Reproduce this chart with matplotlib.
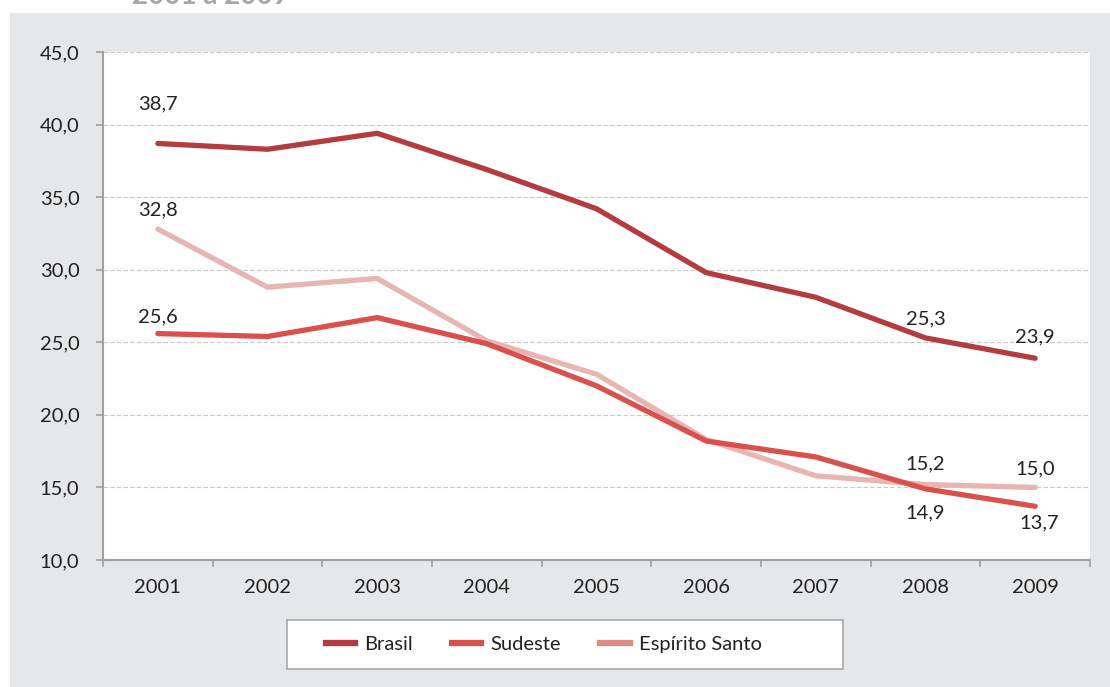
import matplotlib.pyplot as plt
from matplotlib.patches import Rectangle
from matplotlib.lines import Line2D

plt.rcParams['font.family'] = ['Lato', 'DejaVu Sans']

anos = ['2001', '2002', '2003', '2004', '2005', '2006', '2007', '2008', '2009']
brasil = [38.7, 38.3, 39.4, 36.9, 34.2, 29.8, 28.1, 25.3, 23.9]
sudeste = [25.6, 25.4, 26.7, 24.9, 22.0, 18.2, 17.1, 14.9, 13.7]
espirito_santo = [32.8, 28.8, 29.4, 25.1, 22.8, 18.3, 15.8, 15.2, 15.0]
nomes = ['Brasil', 'Sudeste', 'Espírito Santo']
cores = ['#B43C3E', '#D9504C', '#E8B6B1']
cores_legenda = ['#B43C3E', '#D9504C', '#DE8A84']
yticks = [10, 15, 20, 25, 30, 35, 40, 45]

W, H = 1110, 687
FS = 14.5
fig = plt.figure(figsize=(W / 100, H / 100), dpi=100)
fig.patch.set_facecolor('white')
fig.patches.append(Rectangle((10 / W, 0), 1, (H - 13) / H, transform=fig.transFigure,
                             facecolor='#E6E7E9', edgecolor='none', zorder=-10))
# caixa da legenda
fig.patches.append(Rectangle((287 / W, 1 - 669 / H), (843 - 287) / W, 49 / H,
                             transform=fig.transFigure, facecolor='white',
                             edgecolor='#A8A8A8', linewidth=1.2, zorder=-5))
fig.text(210 / W, 1 - 4 / H, '2001 a 2009', ha='center', va='baseline',
         fontsize=20, color='#A6A6A6', fontweight='bold')

ax = fig.add_axes([103 / W, (H - 560) / H, (1090 - 103) / W, (560 - 52) / H])
ax.set_facecolor('white')
x = list(range(len(anos)))
estilo = dict(lw=3.8, solid_capstyle='round', solid_joinstyle='round')
ax.plot(x, espirito_santo, color=cores[2], zorder=3, **estilo)
ax.plot(x, sudeste, color=cores[1], zorder=4, **estilo)
ax.plot(x, brasil, color=cores[0], zorder=5, **estilo)

ax.set_xlim(-0.5, len(anos) - 0.5)
ax.set_ylim(10, 45)
ax.set_yticks(yticks)
ax.set_yticklabels([f'{v:.1f}'.replace('.', ',') for v in yticks], fontsize=FS, color='#222222')
ax.set_xticks(x)
ax.set_xticklabels(anos, fontsize=FS, color='#222222')
ax.tick_params(axis='x', length=0, pad=14)
ax.tick_params(axis='y', length=5, color='#A0A0A0', width=1.2, pad=12)
ax.set_xticks([i - 0.5 for i in range(len(anos) + 1)], minor=True)
ax.tick_params(axis='x', which='minor', length=5, color='#A0A0A0', width=1.2, direction='out')
ax.grid(axis='y', color='#C8C8C8', linestyle=(0, (4, 2)), linewidth=0.8)
for s in ['top', 'right']:
    ax.spines[s].set_visible(False)
for s in ['left', 'bottom']:
    ax.spines[s].set_color('#A0A0A0')
    ax.spines[s].set_linewidth(1.5)

def rot(serie, i, dy, dx=0):
    ax.annotate(f'{serie[i]:.1f}'.replace('.', ','), (x[i], serie[i]), xytext=(dx, dy),
                textcoords='offset pixels', ha='center', va='center',
                fontsize=FS, color='#222222', zorder=6)

rot(brasil, 0, 40)
rot(espirito_santo, 0, 19)
rot(sudeste, 0, 17)
rot(brasil, 7, 19)
rot(brasil, 8, 21)
rot(espirito_santo, 7, 21)
rot(espirito_santo, 8, 19)
rot(sudeste, 7, -24)
rot(sudeste, 8, -17, 4)

handles = [Line2D([0], [0], color=c, lw=4.5) for c in cores_legenda]
leg = fig.legend(handles, nomes, loc='center left', bbox_to_anchor=(326 / W, 1 - 644 / H),
                 ncol=3, fontsize=FS, frameon=False, borderpad=0, borderaxespad=0,
                 handlelength=1.45, columnspacing=1.95, handletextpad=0.45)
for t in leg.get_texts():
    t.set_color('#222222')

fig.savefig('out.png', dpi=100)
